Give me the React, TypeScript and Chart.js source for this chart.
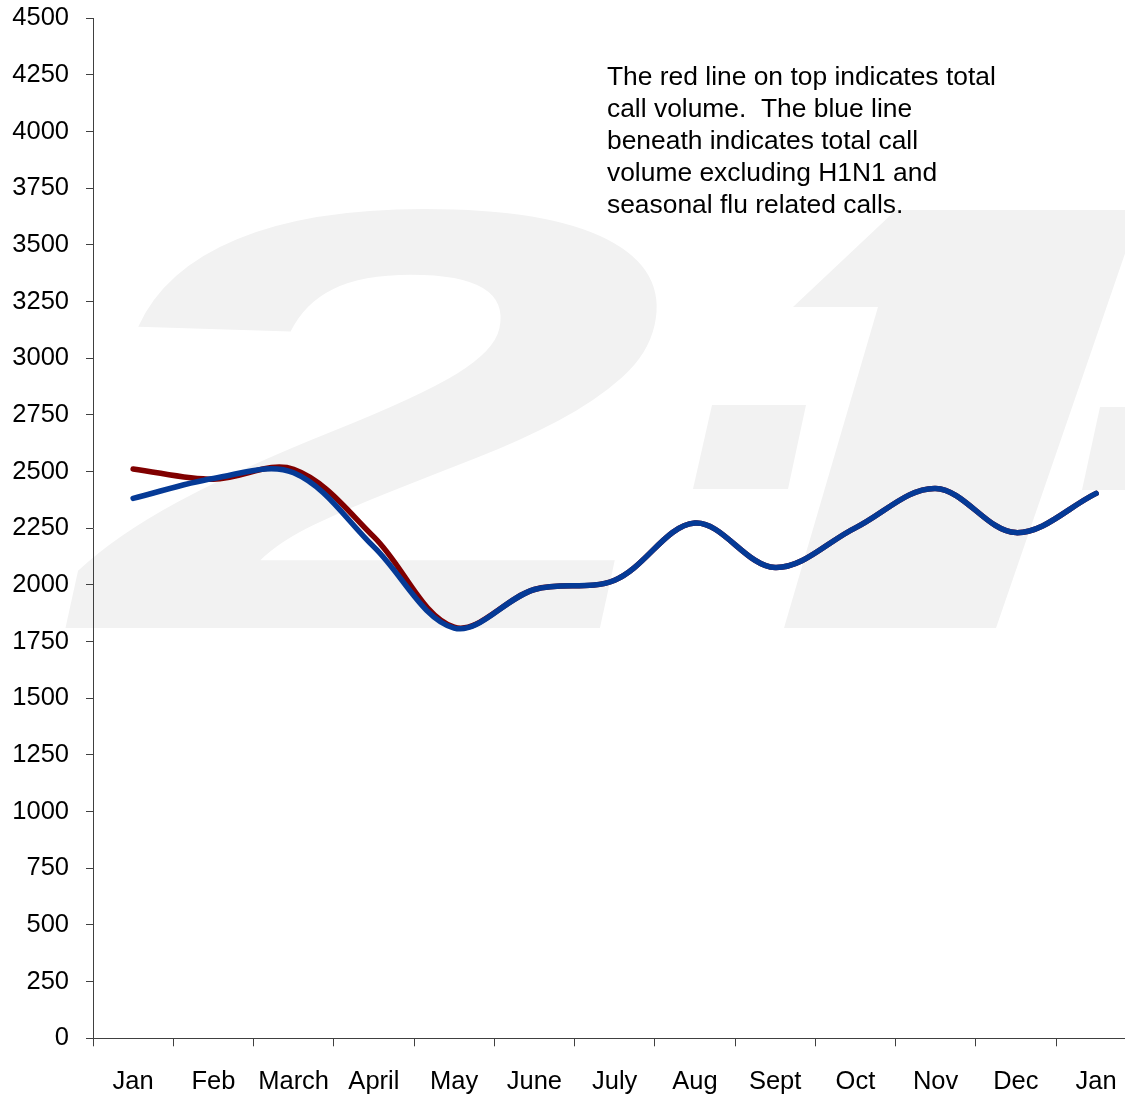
import React, { useEffect, useRef } from "react";
import { Chart, registerables } from "chart.js";

Chart.register(...registerables);

const monthLabels = ["Jan", "Feb", "March", "April", "May", "June", "July", "Aug", "Sept", "Oct", "Nov", "Dec", "Jan"];
const totalCallVolume = [2512, 2466, 2510, 2212, 1814, 1980, 2021, 2273, 2077, 2252, 2426, 2231, 2404];
const excludingFluVolume = [2382, 2470, 2495, 2168, 1810, 1980, 2021, 2273, 2077, 2252, 2426, 2231, 2404];
const yMin = 0;
const yMax = 4500;
const yStep = 250;
const noteLines = [
  "The red line on top indicates total",
  "call volume.  The blue line",
  "beneath indicates total call",
  "volume excluding H1N1 and",
  "seasonal flu related calls.",
];
const watermarkChar = "2";

const FONT = '"Liberation Sans", Arial, sans-serif';

const watermarkPlugin = {
  id: "watermark",
  beforeDraw(chart: any) {
    const ctx = chart.ctx;
    ctx.save();
    ctx.fillStyle = "#f2f2f2";
    ctx.font = `bold 600px ${FONT}`;
    ctx.textBaseline = "alphabetic";
    ctx.setTransform(1.85, 0, -0.22, 1, 27, 628);
    ctx.fillText(watermarkChar, 0, 0);
    ctx.setTransform(1, 0, 0, 1, 0, 0);
    // middle dot
    ctx.beginPath();
    ctx.moveTo(712, 405);
    ctx.lineTo(806, 405);
    ctx.lineTo(788, 489);
    ctx.lineTo(693, 489);
    ctx.closePath();
    ctx.fill();
    // logo "1"
    ctx.beginPath();
    ctx.moveTo(896, 210);
    ctx.lineTo(1140, 210);
    ctx.lineTo(996, 628);
    ctx.lineTo(784, 628);
    ctx.lineTo(878, 307);
    ctx.lineTo(793, 307);
    ctx.closePath();
    ctx.fill();
    // right dot
    ctx.beginPath();
    ctx.moveTo(1100, 407);
    ctx.lineTo(1150, 407);
    ctx.lineTo(1130, 490);
    ctx.lineTo(1082, 490);
    ctx.closePath();
    ctx.fill();
    ctx.restore();
  },
};

const notePlugin = {
  id: "note",
  afterDraw(chart: any) {
    const ctx = chart.ctx;
    ctx.save();
    ctx.fillStyle = "#000";
    ctx.font = `26.4px ${FONT}`;
    ctx.textAlign = "left";
    ctx.textBaseline = "middle";
    noteLines.forEach((line, i) => {
      ctx.fillText(line, 607, 78 + i * 32);
    });
    ctx.restore();
  },
};

export default function App() {
  const canvasRef = useRef<HTMLCanvasElement | null>(null);

  useEffect(() => {
    if (!canvasRef.current) return;
    const chart = new Chart(canvasRef.current, {
      type: "line",
      data: {
        labels: monthLabels,
        datasets: [
          {
            label: "Total call volume",
            data: totalCallVolume,
            borderColor: "#800000",
            backgroundColor: "#800000",
            borderWidth: 5.5,
            pointRadius: 0,
            tension: 0.35,
            borderCapStyle: "round",
            borderJoinStyle: "round",
            order: 2,
          },
          {
            label: "Excluding H1N1 and seasonal flu",
            data: excludingFluVolume,
            borderColor: "#053a96",
            backgroundColor: "#053a96",
            borderWidth: 5.5,
            pointRadius: 0,
            tension: 0.35,
            borderCapStyle: "round",
            borderJoinStyle: "round",
            order: 1,
          },
        ],
      },
      options: {
        responsive: false,
        animation: false,
        devicePixelRatio: 1,
        layout: { padding: { top: 18.3, right: 3.75, left: 0, bottom: 0 } },
        plugins: {
          legend: { display: false },
          tooltip: { enabled: false },
          title: { display: false },
        },
        scales: {
          x: {
            type: "category",
            offset: true,
            grid: {
              display: true,
              drawOnChartArea: false,
              drawTicks: true,
              tickLength: 8,
              color: "#404040",
              offset: true,
            },
            border: { display: true, color: "#404040", width: 1 },
            ticks: {
              color: "#000",
              font: { family: FONT, size: 25.5 },
              padding: 20,
              maxRotation: 0,
              autoSkip: false,
            },
            afterFit(scale: any) {
              scale.height = 1094 - 1038.3;
              scale.paddingLeft = 0;
              scale.paddingRight = 0;
            },
          },
          y: {
            min: yMin,
            max: yMax,
            grid: {
              display: true,
              drawOnChartArea: false,
              drawTicks: true,
              tickLength: 7,
              color: "#404040",
            },
            border: { display: true, color: "#404040", width: 1 },
            ticks: {
              stepSize: yStep,
              color: "#000",
              font: { family: FONT, size: 25.5 },
              padding: 17,
              callback: (value: any) => String(value),
            },
            afterFit(scale: any) {
              scale.width = 93;
              scale.paddingTop = 0;
              scale.paddingBottom = 0;
            },
          },
        },
      },
      plugins: [watermarkPlugin, notePlugin],
    } as any);
    return () => chart.destroy();
  }, []);

  return (
    <div style={{ position: "fixed", left: 0, top: 0, width: 1125, height: 1094, overflow: "hidden", background: "#fff" }}>
      <canvas ref={canvasRef} width={1140} height={1094} style={{ display: "block" }} />
    </div>
  );
}
